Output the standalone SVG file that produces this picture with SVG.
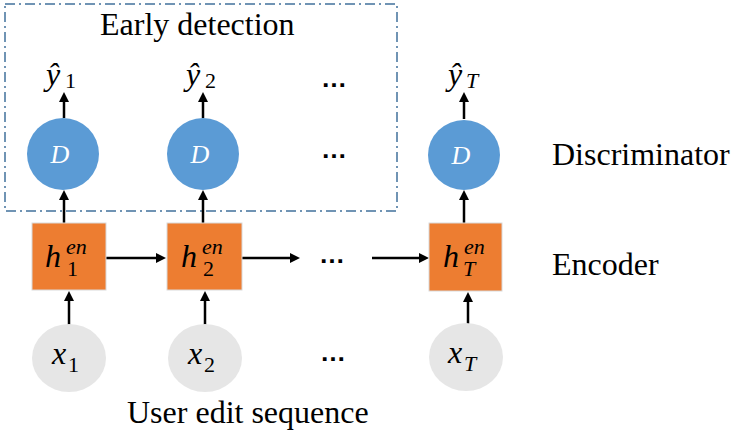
<svg xmlns="http://www.w3.org/2000/svg" width="735" height="431" viewBox="0 0 735 431">
  <g id="early-detection">
    <rect x="5" y="4" width="392" height="207" fill="none" stroke="#41719C" stroke-width="1.5" stroke-dasharray="10 4 2 4"/>
    <text x="100" y="35" font-family="Times New Roman" font-size="32">Early detection</text>
  </g>

  <g id="connectors" stroke="#000" stroke-width="2.5" fill="#000">
    <line x1="64" y1="118" x2="64" y2="100"/><polygon stroke="none" points="64,92 59,102 69,102"/>
    <line x1="203" y1="118" x2="203" y2="100"/><polygon stroke="none" points="203,92 198,102 208,102"/>
    <line x1="464" y1="119" x2="464" y2="100"/><polygon stroke="none" points="464,92 459,102 469,102"/>
    <line x1="64" y1="223" x2="64" y2="198"/><polygon stroke="none" points="64,190 59,200 69,200"/>
    <line x1="203" y1="223" x2="203" y2="198"/><polygon stroke="none" points="203,190 198,200 208,200"/>
    <line x1="464" y1="223" x2="464" y2="198"/><polygon stroke="none" points="464,190 459,200 469,200"/>
    <line x1="69" y1="325" x2="69" y2="299"/><polygon stroke="none" points="69,291 64,301 74,301"/>
    <line x1="205" y1="325" x2="205" y2="299"/><polygon stroke="none" points="205,291 200,301 210,301"/>
    <line x1="468" y1="324" x2="468" y2="300"/><polygon stroke="none" points="468,292 463,302 473,302"/>
    <line x1="106" y1="258" x2="158" y2="258"/><polygon stroke="none" points="166,258 156,253 156,263"/>
    <line x1="242" y1="258" x2="292" y2="258"/><polygon stroke="none" points="300,258 290,253 290,263"/>
    <line x1="372" y1="258" x2="421" y2="258"/><polygon stroke="none" points="429,258 419,253 419,263"/>
  </g>

  <g id="y1"><text x="46" y="85" font-family="Times New Roman" font-style="italic" font-size="32">ŷ</text><text x="65" y="88" font-family="Times New Roman" font-size="22">1</text></g>
  <g id="y2"><text x="186" y="85" font-family="Times New Roman" font-style="italic" font-size="32">ŷ</text><text x="205" y="88" font-family="Times New Roman" font-size="22">2</text></g>
  <g id="yT"><text x="448" y="85" font-family="Times New Roman" font-style="italic" font-size="32">ŷ</text><text x="466" y="88" font-family="Times New Roman" font-style="italic" font-size="22">T</text></g>

  <g id="d1"><ellipse cx="63" cy="154" rx="36" ry="36" fill="#5B9BD5"/><text x="60" y="163" text-anchor="middle" font-family="Times New Roman" font-style="italic" font-size="26" fill="#fff">D</text></g>
  <g id="d2"><ellipse cx="203" cy="154" rx="36" ry="36" fill="#5B9BD5"/><text x="200" y="163" text-anchor="middle" font-family="Times New Roman" font-style="italic" font-size="26" fill="#fff">D</text></g>
  <g id="dT"><ellipse cx="464" cy="155" rx="36" ry="35" fill="#5B9BD5"/><text x="461" y="164" text-anchor="middle" font-family="Times New Roman" font-style="italic" font-size="26" fill="#fff">D</text></g>

  <g id="h1"><rect x="32" y="223" width="74" height="67" fill="#ED7D31" stroke="#d9d9d9" stroke-width="1"/>
    <text x="45" y="267" font-family="Times New Roman" font-style="italic" font-size="32">h</text>
    <text x="66" y="254" font-family="Times New Roman" font-style="italic" font-size="22">en</text>
    <text x="67" y="276" font-family="Times New Roman" font-size="22">1</text></g>
  <g id="h2"><rect x="167" y="223" width="75" height="67" fill="#ED7D31" stroke="#d9d9d9" stroke-width="1"/>
    <text x="181" y="267" font-family="Times New Roman" font-style="italic" font-size="32">h</text>
    <text x="202" y="254" font-family="Times New Roman" font-style="italic" font-size="22">en</text>
    <text x="203" y="276" font-family="Times New Roman" font-size="22">2</text></g>
  <g id="hT"><rect x="429" y="223" width="73" height="68" fill="#ED7D31" stroke="#d9d9d9" stroke-width="1"/>
    <text x="443" y="267" font-family="Times New Roman" font-style="italic" font-size="32">h</text>
    <text x="464" y="254" font-family="Times New Roman" font-style="italic" font-size="22">en</text>
    <text x="463" y="276" font-family="Times New Roman" font-style="italic" font-size="22">T</text></g>

  <g id="x1"><ellipse cx="69" cy="358" rx="37" ry="34" fill="#E6E6E6"/>
    <text x="52" y="364" font-family="Times New Roman" font-style="italic" font-size="32">x</text>
    <text x="68" y="372" font-family="Times New Roman" font-size="22">1</text></g>
  <g id="x2"><ellipse cx="205" cy="358" rx="37" ry="34" fill="#E6E6E6"/>
    <text x="188" y="364" font-family="Times New Roman" font-style="italic" font-size="32">x</text>
    <text x="204" y="372" font-family="Times New Roman" font-size="22">2</text></g>
  <g id="xT"><ellipse cx="466" cy="357" rx="37" ry="34" fill="#E6E6E6"/>
    <text x="448" y="363" font-family="Times New Roman" font-style="italic" font-size="32">x</text>
    <text x="464" y="371" font-family="Times New Roman" font-style="italic" font-size="22">T</text></g>

  <g id="labels">
    <text x="552" y="165" font-family="Times New Roman" font-size="32">Discriminator</text>
    <text x="552" y="275" font-family="Times New Roman" font-size="32">Encoder</text>
    <text x="127" y="423" font-family="Times New Roman" font-size="32">User edit sequence</text>
  </g>

  <g id="ellipses">
    <text x="334" y="87" text-anchor="middle" font-family="Liberation Sans" font-size="26" font-weight="bold">…</text>
    <text x="334" y="158" text-anchor="middle" font-family="Liberation Sans" font-size="26" font-weight="bold">…</text>
    <text x="332" y="263" text-anchor="middle" font-family="Liberation Sans" font-size="26" font-weight="bold">…</text>
    <text x="333" y="361" text-anchor="middle" font-family="Liberation Sans" font-size="26" font-weight="bold">…</text>
  </g>
</svg>
